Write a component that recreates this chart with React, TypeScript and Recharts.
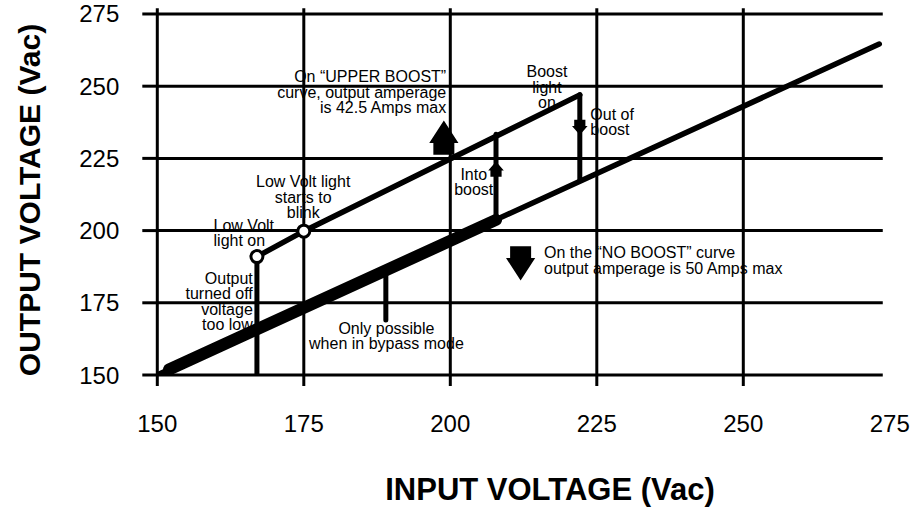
import React from 'react';
import { ComposedChart, Line, Scatter, XAxis, YAxis, ReferenceLine, Label } from 'recharts';

const FONT = '"Liberation Sans", Arial, Helvetica, sans-serif';

const xTicks = [150, 175, 200, 225, 250, 275];
const yTicks = [150, 175, 200, 225, 250, 275];
const gridX = [175, 200, 225, 250];
const gridY = [150, 175, 200, 225, 250, 275];
// the horizontal rules stop a little short of 275 on the right
const gridRight = 273.8;

// the "NO BOOST" curve and the part of it you only get in bypass
const noBoost = [{ x: 150, y: 150 }, { x: 273.2, y: 264.6 }];
const bypassOnly = [{ x: 152, y: 151.9 }, { x: 207.8, y: 203.7 }];
// the "UPPER BOOST" curve
const upperBoost = [{ x: 167, y: 191 }, { x: 175, y: 199.8 }, { x: 222.1, y: 247 }];
const outputOff = [{ x: 167, y: 150 }, { x: 167, y: 191 }];
const intoBoost = [{ x: 207.8, y: 203.7 }, { x: 207.8, y: 233.4 }];
const outOfBoost = [{ x: 222.1, y: 247 }, { x: 222.1, y: 217.6 }];
const bypassPointer = [{ x: 189, y: 185.6 }, { x: 189, y: 169 }];
const lightPoints = [{ x: 167, y: 191 }, { x: 175, y: 199.8 }];

const arrows = [
  { x: 198.9, y: 238.1, dir: 'up', kind: 'big' },
  { x: 212.0, y: 182.7, dir: 'down', kind: 'big' },
  { x: 207.8, y: 223.9, dir: 'up', kind: 'small' },
  { x: 222.1, y: 233.1, dir: 'down', kind: 'small' },
];

const notes = [
  { x: 199.3, y: 253.2, align: 'end', lines: ['On \u201cUPPER BOOST\u201d', 'curve, output amperage', 'is 42.5 Amps max'] },
  { x: 216.5, y: 255.0, align: 'middle', lines: ['Boost', 'light', 'on'] },
  { x: 223.9, y: 240.3, align: 'start', lines: ['Out of', 'boost'] },
  { x: 204.0, y: 219.5, align: 'middle', lines: ['Into', 'boost'] },
  { x: 174.9, y: 216.9, align: 'middle', lines: ['Low Volt light', 'starts to', 'blink'] },
  { x: 159.6, y: 201.9, align: 'start', lines: ['Low Volt', 'light on'] },
  { x: 166.3, y: 183.5, align: 'end', lines: ['Output', 'turned off', 'voltage', 'too low'] },
  { x: 189.1, y: 166.2, align: 'middle', lines: ['Only possible', 'when in bypass mode'] },
  { x: 216.0, y: 192.3, align: 'start', lines: ['On the \u201cNO BOOST\u201d curve', 'output amperage is 50 Amps max'] },
];

const arrowSizes: Record<string, { head: number; headH: number; shaft: number; shaftH: number }> = {
  big: { head: 14.6, headH: 22.5, shaft: 10.5, shaftH: 11.7 },
  small: { head: 7.8, headH: 9, shaft: 5.6, shaftH: 6.2 },
};

const ArrowShape = (props: any) => {
  const { cx, cy, payload } = props;
  const s = arrowSizes[payload.kind];
  const k = payload.dir === 'up' ? 1 : -1;
  const b = cy + k * s.headH;
  const e = b + k * s.shaftH;
  const pts = [
    [cx, cy],
    [cx + s.head, b],
    [cx + s.shaft, b],
    [cx + s.shaft, e],
    [cx - s.shaft, e],
    [cx - s.shaft, b],
    [cx - s.head, b],
  ];
  return <polygon points={pts.map((p) => p.join(',')).join(' ')} fill="#000" />;
};

const NoteShape = (props: any) => {
  const { cx, cy, payload } = props;
  return (
    <text x={cx} y={cy + 5.5} textAnchor={payload.align} fontSize={16} fontFamily={FONT} fill="#000">
      {payload.lines.map((t: string, i: number) => (
        <tspan key={i} x={cx} dy={i === 0 ? 0 : 15.5}>
          {t}
        </tspan>
      ))}
    </text>
  );
};

const LightShape = (props: any) => (
  <circle cx={props.cx} cy={props.cy} r={6} fill="#fff" stroke="#000" strokeWidth={3} />
);

const XTick = (props: any) => {
  const { x, y, payload } = props;
  return (
    <g>
      {payload.value < 275 && <line x1={x} x2={x} y1={y} y2={y + 11} stroke="#000" strokeWidth={3} />}
      <text x={x} y={y + 57} textAnchor="middle" fontSize={24} fontFamily={FONT} fill="#000">
        {payload.value}
      </text>
    </g>
  );
};

const XTitle = () => (
  <text x={550} y={500} textAnchor="middle" fontSize={31} fontWeight="bold" fontFamily={FONT} fill="#000">
    INPUT VOLTAGE (Vac)
  </text>
);

const YTitle = () => (
  <text
    x={0}
    y={0}
    transform="translate(40 200) rotate(-90)"
    textAnchor="middle"
    fontSize={30}
    fontWeight="bold"
    fontFamily={FONT}
    fill="#000"
  >
    OUTPUT VOLTAGE (Vac)
  </text>
);

const seg = (data: { x: number; y: number }[], w: number, key: string) => (
  <Line
    key={key}
    data={data}
    dataKey="y"
    type="linear"
    stroke="#000"
    strokeWidth={w}
    strokeLinecap="round"
    dot={false}
    activeDot={false}
    isAnimationActive={false}
  />
);

export default function App() {
  return (
    <div style={{ position: 'absolute', left: 0, top: 0, background: '#fff' }}>
      <ComposedChart width={912} height={507} margin={{ top: 8.2, right: 22.2, bottom: 0, left: 0 }}>
        {gridX.map((v) => (
          <ReferenceLine key={'gx' + v} x={v} stroke="#000" strokeWidth={3} />
        ))}
        {gridY.map((v) => (
          <ReferenceLine
            key={'gy' + v}
            segment={[{ x: 150, y: v }, { x: gridRight, y: v }]}
            stroke="#000"
            strokeWidth={3}
          />
        ))}
        <XAxis
          dataKey="x"
          type="number"
          domain={[150, 275]}
          ticks={xTicks}
          allowDataOverflow
          height={132}
          tickLine={false}
          tickSize={0}
          tickMargin={0}
          tick={<XTick />}
          axisLine={false}
        >
          <Label content={<XTitle />} />
        </XAxis>
        <YAxis
          dataKey="y"
          type="number"
          domain={[150, 277]}
          ticks={yTicks}
          allowDataOverflow
          width={157.3}
          tickSize={15}
          tickMargin={23}
          tick={{ fontSize: 24, fill: '#000', fontFamily: FONT }}
          tickLine={{ stroke: '#000', strokeWidth: 3 }}
          axisLine={{ stroke: '#000', strokeWidth: 3 }}
        >
          <Label content={<YTitle />} />
        </YAxis>
        {seg(noBoost, 5.5, 'noBoost')}
        {seg(bypassOnly, 12, 'bypass')}
        {seg(upperBoost, 5.5, 'upper')}
        {seg(outputOff, 5, 'off')}
        {seg(intoBoost, 5, 'into')}
        {seg(outOfBoost, 5, 'out')}
        {seg(bypassPointer, 5, 'pointer')}
        <Scatter data={lightPoints} dataKey="y" shape={LightShape} isAnimationActive={false} />
        <Scatter data={arrows} dataKey="y" shape={ArrowShape} isAnimationActive={false} />
        <Scatter data={notes} dataKey="y" shape={NoteShape} isAnimationActive={false} />
      </ComposedChart>
    </div>
  );
}
